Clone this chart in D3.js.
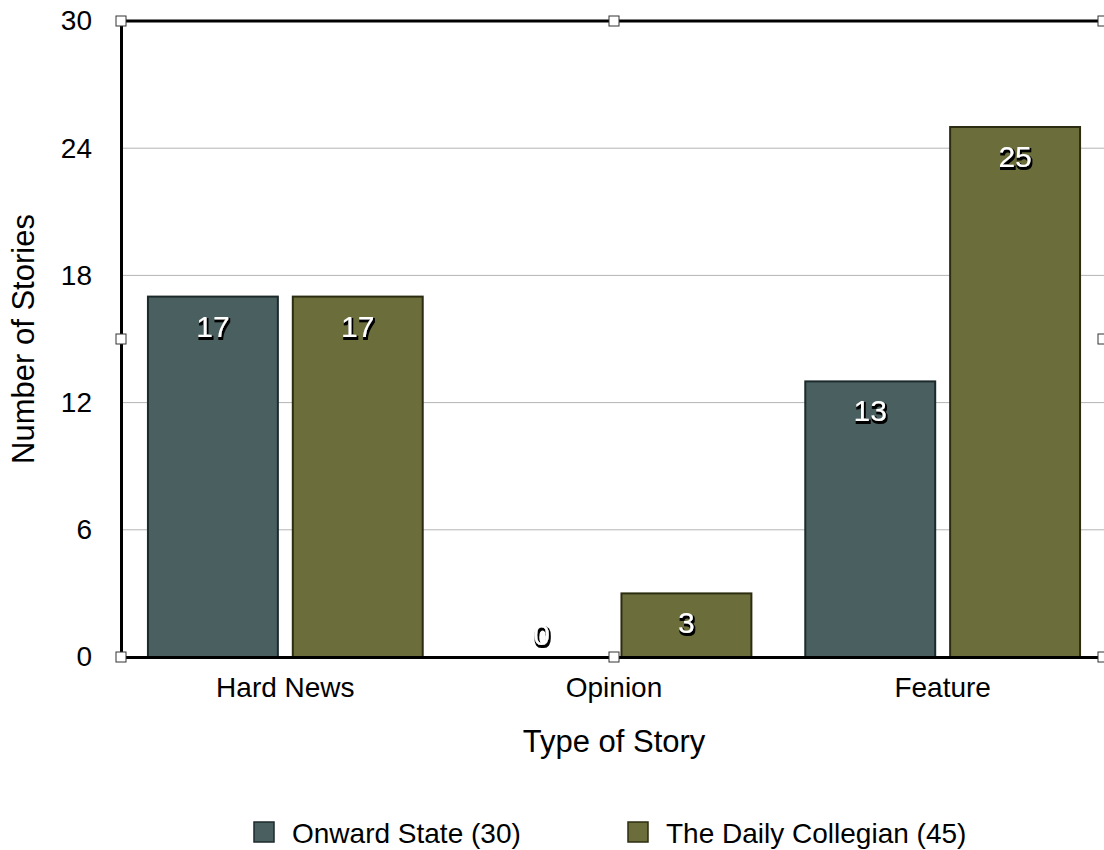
<!DOCTYPE html>
<html>
<head>
<meta charset="utf-8">
<script src="https://cdn.jsdelivr.net/npm/d3@7"></script>
<style>
  body { margin: 0; background: #fff; }
  svg { font-family: "Liberation Sans", Arial, sans-serif; }
</style>
</head>
<body>
<svg width="1104" height="850"></svg>
<script>
// chart data
const categories = ["Hard News", "Opinion", "Feature"];
const seriesNames = ["Onward State (30)", "The Daily Collegian (45)"];
const onwardState = [17, 0, 13];
const dailyCollegian = [17, 3, 25];
const yTicks = [0, 6, 12, 18, 24, 30];

const colors = ["#4a5f60", "#6b6e3b"];
const strokes = ["#1c2a2b", "#2c2d10"];

let svg = d3.select("svg");
let plotLeft = 121, plotRight = 1107, plotTop = 21, plotBottom = 657;

let data = categories.map((c, i) => ({
  cat: c,
  values: [onwardState[i], dailyCollegian[i]]
}));

let xScale = d3.scaleBand()
  .domain(categories)
  .range([plotLeft, plotRight]);

let xInner = d3.scaleBand()
  .domain([0, 1])
  .range([0, xScale.bandwidth()])
  .paddingInner(0.103)
  .paddingOuter(0.186);

let yScale = d3.scaleLinear()
  .domain([0, 30])
  .range([plotBottom, plotTop]);

// text shadow filter for bar labels
let defs = svg.append("defs");
let f = defs.append("filter").attr("id", "shadow")
  .attr("x", "-30%").attr("y", "-30%").attr("width", "160%").attr("height", "160%");
f.append("feMorphology").attr("in", "SourceAlpha").attr("operator", "dilate").attr("radius", 1.3).attr("result", "d");
f.append("feOffset").attr("in", "d").attr("dx", 0.5).attr("dy", 1.5).attr("result", "o");
f.append("feGaussianBlur").attr("in", "o").attr("stdDeviation", 0.6).attr("result", "b");
let m = f.append("feMerge");
m.append("feMergeNode").attr("in", "b");
m.append("feMergeNode").attr("in", "SourceGraphic");

// gridlines
svg.append("g")
  .selectAll("line")
  .data(yTicks.filter(t => t > 0 && t < 30))
  .enter()
  .append("line")
  .attr("x1", plotLeft)
  .attr("x2", plotRight)
  .attr("y1", d => yScale(d))
  .attr("y2", d => yScale(d))
  .attr("stroke", "#b4b4b4")
  .attr("stroke-width", 1);

// bars
let groups = svg.append("g")
  .selectAll("g")
  .data(data)
  .enter()
  .append("g")
  .attr("transform", d => `translate(${xScale(d.cat)},0)`);

groups.selectAll("rect")
  .data(d => d.values.map((v, i) => ({ v, i })).filter(d => d.v > 0))
  .enter()
  .append("rect")
  .attr("x", d => xInner(d.i))
  .attr("y", d => yScale(d.v))
  .attr("width", xInner.bandwidth())
  .attr("height", d => yScale(0) - yScale(d.v))
  .attr("fill", d => colors[d.i])
  .attr("stroke", d => strokes[d.i])
  .attr("stroke-width", 2);

// value labels
groups.selectAll("text")
  .data(d => d.values.map((v, i) => ({ v, i })))
  .enter()
  .append("text")
  .attr("x", d => xInner(d.i) + xInner.bandwidth() / 2)
  .attr("y", d => d.v > 0 ? yScale(d.v) + 40 : yScale(0) - 12)
  .attr("text-anchor", "middle")
  .attr("font-size", 30)
  .attr("fill", "#fff")
  .attr("filter", "url(#shadow)")
  .text(d => d.v);

// frame lines
svg.append("line")
  .attr("x1", plotLeft).attr("x2", plotRight)
  .attr("y1", plotTop).attr("y2", plotTop)
  .attr("stroke", "#000").attr("stroke-width", 3);

let yAxis = d3.axisLeft(yScale).tickValues(yTicks).tickSize(0).tickPadding(29);
let yG = svg.append("g")
  .attr("transform", `translate(${plotLeft},0)`)
  .call(yAxis);
yG.select(".domain").attr("stroke", "#000").attr("stroke-width", 3);
yG.selectAll("text").attr("font-size", 28).attr("fill", "#000")
  .attr("font-family", "Liberation Sans, Arial, sans-serif");

let xAxis = d3.axisBottom(xScale).tickSize(0).tickPadding(20);
let xG = svg.append("g")
  .attr("transform", `translate(0,${plotBottom})`)
  .call(xAxis);
xG.select(".domain").attr("stroke", "#000").attr("stroke-width", 3);
xG.selectAll("text").attr("font-size", 28).attr("fill", "#000")
  .attr("font-family", "Liberation Sans, Arial, sans-serif");

// selection handles
let mid = (plotLeft + plotRight) / 2, midY = (plotTop + plotBottom) / 2;
let handles = [[plotLeft, plotTop], [mid, plotTop], [plotRight - 4, plotTop], [plotLeft, midY], [plotRight - 4, midY],
  [plotLeft, plotBottom], [mid, plotBottom], [plotRight - 4, plotBottom]];
svg.append("g")
  .selectAll("rect")
  .data(handles)
  .enter()
  .append("rect")
  .attr("x", d => d[0] - 5)
  .attr("y", d => d[1] - 5)
  .attr("width", 10)
  .attr("height", 10)
  .attr("fill", "#fff")
  .attr("stroke", "#333")
  .attr("stroke-width", 1);

// axis titles
svg.append("text")
  .attr("transform", `translate(34,${midY}) rotate(-90)`)
  .attr("text-anchor", "middle")
  .attr("font-size", 31)
  .text("Number of Stories");

svg.append("text")
  .attr("x", mid)
  .attr("y", 752)
  .attr("text-anchor", "middle")
  .attr("font-size", 31)
  .text("Type of Story");

// legend
let legendX = [254, 628];
let legend = svg.append("g")
  .selectAll("g")
  .data(seriesNames)
  .enter()
  .append("g")
  .attr("transform", (d, i) => `translate(${legendX[i]},822)`);
legend.append("rect")
  .attr("width", 20).attr("height", 20)
  .attr("fill", (d, i) => colors[i])
  .attr("stroke", (d, i) => strokes[i])
  .attr("stroke-width", 1.5);
legend.append("text")
  .attr("x", 38).attr("y", 21)
  .attr("font-size", 28)
  .text(d => d);
</script>
</body>
</html>
